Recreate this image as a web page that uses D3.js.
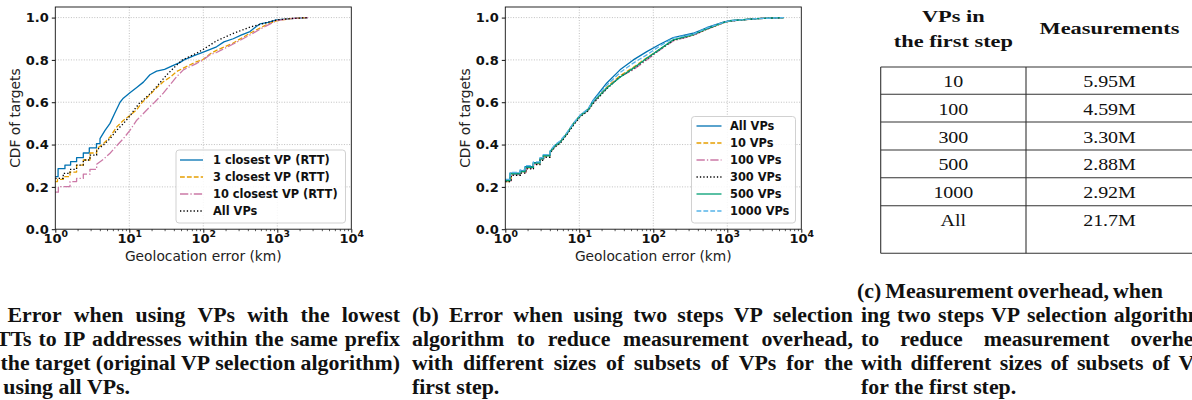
<!DOCTYPE html>
<html>
<head>
<meta charset="utf-8">
<script src="https://cdn.jsdelivr.net/npm/d3@7"></script>
<style>
  html, body { margin: 0; padding: 0; background: #fff; }
  svg { display: block; }
</style>
</head>
<body>
<script>
// ---------------- DATA ----------------
// Panel (a): [geolocation error km, CDF]
const closest1 = [[1,0.248],[1.09,0.286],[1.35,0.303],[1.61,0.319],[1.94,0.338],[2.39,0.36],[2.88,0.384],[3.6,0.404],[4.02,0.428],[4.7,0.467],[5.49,0.50],[6.4,0.55],[7.5,0.60],[8.3,0.619],[10.2,0.645],[12.6,0.67],[15.5,0.695],[19,0.73],[23.4,0.747],[30,0.755],[38,0.772],[48,0.787],[55,0.80],[75,0.82],[100,0.837],[151,0.862],[190,0.885],[254,0.90],[330,0.918],[427,0.934],[520,0.958],[582,0.97],[750,0.977],[977,0.989],[1500,0.995],[2600,1.0]];
const closest3 = [[1,0.225],[1.07,0.235],[1.28,0.248],[1.58,0.27],[1.94,0.303],[2.39,0.327],[2.94,0.36],[3.62,0.38],[4.46,0.404],[5.49,0.436],[6.75,0.483],[8.3,0.514],[10.2,0.537],[12.6,0.565],[15,0.60],[19,0.635],[23.4,0.668],[28.8,0.697],[35.5,0.718],[43.7,0.745],[53.7,0.761],[81.7,0.792],[97,0.80],[123,0.828],[151,0.845],[254,0.88],[427,0.926],[700,0.965],[977,0.985],[1500,0.995],[2600,1.0]];
const closest10 = [[1,0.175],[1.1,0.201],[1.58,0.225],[1.94,0.24],[2.39,0.26],[2.94,0.283],[3.62,0.307],[4.46,0.33],[5.49,0.359],[7,0.40],[8.3,0.428],[10.2,0.467],[12.6,0.515],[15.5,0.547],[19,0.579],[22,0.60],[28.8,0.643],[36,0.685],[43.7,0.721],[53.7,0.753],[81.7,0.784],[100,0.80],[123,0.824],[151,0.835],[254,0.875],[427,0.918],[700,0.96],[977,0.985],[1500,0.995],[2600,1.0]];
const allVPsA = [[1,0.24],[1.28,0.264],[1.58,0.283],[1.94,0.303],[2.39,0.327],[2.94,0.35],[3.62,0.374],[4.46,0.397],[5.49,0.428],[6.75,0.467],[8.3,0.499],[10.2,0.535],[12,0.57],[14,0.60],[15.5,0.611],[19,0.64],[23.4,0.674],[32,0.729],[43.7,0.776],[52,0.80],[81.7,0.832],[100,0.85],[123,0.87],[151,0.89],[254,0.925],[427,0.955],[700,0.975],[977,0.989],[1500,0.995],[2600,1.0]];

// Panel (b)
const allVPsB = [[1,0.233],[1.16,0.265],[1.58,0.276],[1.85,0.296],[2.39,0.315],[2.94,0.335],[3.26,0.35],[4.02,0.366],[4.7,0.397],[5.49,0.413],[6.75,0.452],[8.3,0.499],[10.2,0.537],[13.2,0.568],[15.5,0.611],[23.4,0.69],[35.5,0.753],[53.7,0.80],[81.7,0.839],[123,0.874],[186,0.905],[347,0.926],[525,0.952],[883,0.978],[1087,0.985],[2490,0.995],[5800,1.0]];
const vps10 = [[1,0.225],[1.2,0.26],[1.6,0.27],[1.9,0.29],[2.4,0.31],[2.94,0.33],[3.3,0.345],[4.02,0.362],[4.7,0.392],[5.49,0.41],[6.75,0.45],[8.3,0.497],[10.2,0.535],[13.2,0.565],[15.5,0.6],[23.4,0.67],[35.5,0.725],[53.7,0.765],[81.7,0.81],[123,0.85],[186,0.893],[347,0.918],[525,0.945],[883,0.975],[1087,0.984],[2490,0.995],[5800,1.0]];
const vps100 = [[1,0.228],[1.2,0.258],[1.6,0.268],[1.9,0.288],[2.4,0.308],[2.94,0.33],[3.3,0.345],[4.02,0.362],[4.7,0.39],[5.49,0.41],[6.75,0.448],[8.3,0.495],[10.2,0.533],[13.2,0.562],[15.5,0.598],[23.4,0.665],[35.5,0.72],[53.7,0.753],[81.7,0.80],[123,0.847],[186,0.89],[347,0.916],[525,0.944],[883,0.975],[1087,0.984],[2490,0.995],[5800,1.0]];
const vps300 = [[1,0.225],[1.2,0.255],[1.6,0.265],[1.9,0.285],[2.4,0.305],[2.94,0.325],[3.3,0.34],[4.02,0.36],[4.7,0.388],[5.49,0.405],[6.75,0.445],[8.3,0.49],[10.2,0.53],[13.2,0.56],[15.5,0.595],[23.4,0.663],[35.5,0.72],[53.7,0.758],[81.7,0.805],[123,0.85],[186,0.892],[347,0.918],[525,0.945],[883,0.976],[1087,0.984],[2490,0.995],[5800,1.0]];
const vps500 = [[1,0.23],[1.16,0.262],[1.58,0.272],[1.85,0.292],[2.39,0.312],[2.94,0.332],[3.26,0.347],[4.02,0.364],[4.7,0.394],[5.49,0.41],[6.75,0.45],[8.3,0.497],[10.2,0.535],[13.2,0.565],[15.5,0.603],[23.4,0.666],[35.5,0.718],[53.7,0.761],[81.7,0.808],[123,0.851],[186,0.895],[347,0.92],[525,0.947],[883,0.976],[1087,0.985],[2490,0.995],[5800,1.0]];
const vps1000 = [[1,0.235],[1.16,0.268],[1.58,0.28],[1.85,0.3],[2.39,0.318],[2.94,0.338],[3.26,0.352],[4.02,0.37],[4.7,0.4],[5.49,0.417],[6.75,0.455],[8.3,0.5],[10.2,0.538],[13.2,0.57],[15.5,0.608],[23.4,0.68],[35.5,0.74],[53.7,0.785],[81.7,0.824],[123,0.866],[186,0.903],[347,0.922],[525,0.95],[883,0.977],[1087,0.985],[2490,0.995],[5800,1.0]];

const legendA = ["1 closest VP (RTT)", "3 closest VP (RTT)", "10 closest VP (RTT)", "All VPs"];
const legendB = ["All VPs", "10 VPs", "100 VPs", "300 VPs", "500 VPs", "1000 VPs"];
const xTicks = [1, 10, 100, 1000, 10000];
const yTicks = [0, 0.2, 0.4, 0.6, 0.8, 1.0];
const xLabel = "Geolocation error (km)";
const yLabel = "CDF of targets";

// Table (c)
const tableHeader1 = ["VPs in", "the first step"];
const tableHeader2 = "Measurements";
const vpsFirstStep = ["10", "100", "300", "500", "1000", "All"];
const measurements = ["5.95M", "4.59M", "3.30M", "2.88M", "2.92M", "21.7M"];

// Captions
const captionA = ["Error when using VPs with the lowest", "RTTs to IP addresses within the same prefix", "the target (original VP selection algorithm)", "using all VPs."];
const captionB = ["(b) Error when using two steps VP selection", "algorithm to reduce measurement overhead,", "with different sizes of subsets of VPs for the", "first step."];
const captionC = ["(c) Measurement overhead, when", "ing two steps VP selection algorithm", "to reduce measurement overhead,", "with different sizes of subsets of VPs", "for the first step."];

// ---------------- STYLES ----------------
const styleA = [
  {color: "#0072B2", dash: null},
  {color: "#E69F00", dash: "4.8,2.1"},
  {color: "#CC79A7", dash: "8.3,2.1,1.3,2.1"},
  {color: "#000000", dash: "1.3,2.1"}
];
const styleB = [
  {color: "#0072B2", dash: null},
  {color: "#E69F00", dash: "4.8,2.1"},
  {color: "#CC79A7", dash: "8.3,2.1,1.3,2.1"},
  {color: "#000000", dash: "1.3,2.1"},
  {color: "#009E73", dash: null},
  {color: "#56B4E9", dash: "4.8,2.1"}
];

// ---------------- DRAW ----------------
const W = 1192, H = 400;
const svg = d3.select("body").append("svg").attr("width", W).attr("height", H);
svg.append("rect").attr("width", W).attr("height", H).attr("fill", "#fff");

const plotW = 296, plotTop = 7, plotH = 222.2;
const SANS = "DejaVu Sans, sans-serif";
const STEP_LIMIT = 4.1; // below this error (km) the ECDF staircase is visible

// insert staircase corners at the low end, straight segments above
function staircase(s) {
  const out = [];
  s.forEach((p, i) => {
    if (i > 0 && p[0] <= STEP_LIMIT) out.push([p[0], s[i - 1][1]]);
    out.push(p);
  });
  return out;
}

function drawPanel(left, seriesList, styles, names, leg) {
  const g = svg.append("g").attr("transform", `translate(${left},${plotTop})`);
  const x = d3.scaleLog().domain([1, 1e4]).range([0, plotW]);
  const y = d3.scaleLinear().domain([0, 1.05]).range([plotH, 0]);

  // grid
  g.append("g").selectAll("line").data(xTicks.slice(1, -1)).join("line")
    .attr("x1", d => x(d)).attr("x2", d => x(d)).attr("y1", 0).attr("y2", plotH)
    .attr("stroke", "#b0b0b0").attr("stroke-width", 0.8).attr("stroke-dasharray", "1,1.6");
  g.append("g").selectAll("line").data(yTicks.slice(1)).join("line")
    .attr("x1", 0).attr("x2", plotW).attr("y1", d => y(d)).attr("y2", d => y(d))
    .attr("stroke", "#b0b0b0").attr("stroke-width", 0.8).attr("stroke-dasharray", "1,1.6");

  // series
  const line = d3.line().x(d => x(d[0])).y(d => y(d[1]));
  seriesList.forEach((s, i) => {
    g.append("path").datum(staircase(s)).attr("d", line).attr("fill", "none")
      .attr("stroke", styles[i].color).attr("stroke-width", 1.3)
      .attr("stroke-linejoin", "round")
      .attr("stroke-dasharray", styles[i].dash);
  });

  // frame
  g.append("rect").attr("width", plotW).attr("height", plotH)
    .attr("fill", "none").attr("stroke", "#111").attr("stroke-width", 0.9);

  // y axis
  const ya = g.append("g").call(d3.axisLeft(y).tickValues(yTicks).tickSize(3.5).tickPadding(3).tickFormat(d3.format(".1f")));
  ya.select(".domain").remove();
  ya.selectAll("line").attr("stroke", "#111");
  ya.selectAll("text").attr("font-family", SANS).attr("font-size", 13).attr("font-weight", "bold").attr("fill", "#111");

  // x axis major
  const xa = g.append("g").attr("transform", `translate(0,${plotH})`)
    .call(d3.axisBottom(x).tickValues(xTicks).tickSize(3.5).tickFormat(() => ""));
  xa.select(".domain").remove();
  xa.selectAll("line").attr("stroke", "#111");
  xa.selectAll(".tick").each(function(d) {
    const t = d3.select(this).select("text");
    t.attr("y", null).attr("dy", null).attr("transform", "translate(0,13.8)")
      .attr("font-family", SANS).attr("font-size", 13).attr("font-weight", "bold").attr("fill", "#111");
    t.append("tspan").text("10");
    t.append("tspan").attr("dy", -6).attr("font-size", 9.3).text(String(Math.round(Math.log10(d))));
  });
  // minor ticks
  const minor = [];
  for (let e = 0; e < 4; e++) for (let m = 2; m <= 9; m++) minor.push(m * Math.pow(10, e));
  const xm = g.append("g").attr("transform", `translate(0,${plotH})`)
    .call(d3.axisBottom(x).tickValues(minor).tickSize(2).tickFormat(() => ""));
  xm.select(".domain").remove();
  xm.selectAll("line").attr("stroke", "#111").attr("stroke-width", 0.7);

  // axis labels
  g.append("text").attr("x", plotW / 2).attr("y", plotH + 32)
    .attr("text-anchor", "middle").attr("font-family", SANS).attr("font-size", 13.8).attr("fill", "#222").text(xLabel);
  g.append("text").attr("transform", `translate(${-40},${plotH / 2}) rotate(-90)`)
    .attr("text-anchor", "middle").attr("dy", "0.35em").attr("font-family", SANS).attr("font-size", 13.8).attr("fill", "#222").text(yLabel);

  // legend
  const lg = g.append("g");
  lg.append("rect").attr("x", leg.x0 - left).attr("y", leg.y0 - plotTop)
    .attr("width", leg.x1 - leg.x0).attr("height", leg.y1 - leg.y0).attr("rx", 3)
    .attr("fill", "#fff").attr("fill-opacity", 0.85).attr("stroke", "#cccccc").attr("stroke-width", 0.9);
  names.forEach((n, i) => {
    const cy = leg.rows[i] - plotTop;
    lg.append("line").attr("x1", leg.sx0 - left).attr("x2", leg.sx1 - left).attr("y1", cy).attr("y2", cy)
      .attr("stroke", styles[i].color).attr("stroke-width", 1.3).attr("stroke-dasharray", styles[i].dash);
    lg.append("text").attr("x", leg.tx - left).attr("y", cy + 4.2)
      .attr("font-family", SANS).attr("font-size", 11.4).attr("font-weight", "bold").attr("fill", "#111").text(n);
  });
}

drawPanel(55.3, [closest1, closest3, closest10, allVPsA], styleA, legendA,
  {x0: 176, y0: 150, x1: 345.5, y1: 223, rows: [160, 177, 194, 211], sx0: 180, sx1: 203, tx: 213});
drawPanel(505.3, [allVPsB, vps10, vps100, vps300, vps500, vps1000], styleB, legendB,
  {x0: 691.5, y0: 116.5, x1: 795.5, y1: 223, rows: [126, 143, 160, 177, 194, 211], sx0: 696.5, sx1: 721.5, tx: 730});

// ---------------- TABLE ----------------
const SERIF = "Liberation Serif, Times New Roman, serif";
const measureG = svg.append("g").attr("visibility", "hidden");
function measure(txt, size, weight) {
  const t = measureG.append("text").attr("font-family", SERIF).attr("font-size", size).attr("font-weight", weight).text(txt);
  const w = t.node().getComputedTextLength();
  t.remove();
  return w;
}
const tb = svg.append("g");
const colX = [880.7, 1026, 1193];
const rowY = [67, 94.3, 122, 150, 177.7, 205.7, 253.3];
const stBody = 52.7 / measure("5.95M", 17, "normal");
const stHead = 140 / measure("Measurements", 16.5, "bold");
function centered(txt, cx, y, size, weight, s) {
  tb.append("text").attr("transform", `translate(${cx},${y}) scale(${s},1)`)
    .attr("text-anchor", "middle").attr("font-family", SERIF).attr("font-size", size)
    .attr("font-weight", weight).attr("fill", "#111").text(txt);
}
const c1 = (colX[0] + colX[1]) / 2, c2 = (colX[1] + colX[2]) / 2;
centered(tableHeader1[0], c1, 22, 16.5, "bold", stHead);
centered(tableHeader1[1], c1, 46.5, 16.5, "bold", stHead);
centered(tableHeader2, c2, 34.3, 16.5, "bold", stHead);
const textY = [87.3, 115, 142.7, 170.3, 198, 226];
vpsFirstStep.forEach((v, i) => {
  centered(v, c1, textY[i], 17, "normal", stBody);
  centered(measurements[i], c2, textY[i], 17, "normal", stBody);
});
tb.selectAll("line.h").data(rowY).join("line").attr("class", "h")
  .attr("x1", colX[0]).attr("x2", colX[2]).attr("y1", d => d).attr("y2", d => d)
  .attr("stroke", "#333").attr("stroke-width", 1.1);
tb.selectAll("line.v").data(colX).join("line").attr("class", "v")
  .attr("x1", d => d).attr("x2", d => d).attr("y1", rowY[0]).attr("y2", rowY[rowY.length - 1])
  .attr("stroke", "#333").attr("stroke-width", 1.1);

// ---------------- CAPTIONS ----------------
const capSize = 20;
// horizontal stretch so the tightest line (a, line 3) just fits its measure
const capS = 399 / measure(captionA[2], capSize, "bold");
const spaceW = measure("a a", capSize, "bold") - 2 * measure("a", capSize, "bold");
function captionLine(txt, x0, y, x1) {
  const words = txt.split(" ");
  const widths = words.map(w => measure(w, capSize, "bold"));
  const sum = d3.sum(widths);
  let gap = (x1 != null && words.length > 1) ? ((x1 - x0) / capS - sum) / (words.length - 1) : spaceW;
  gap = Math.max(gap, spaceW * 0.75);
  const t = svg.append("text").attr("transform", `translate(${x0},${y}) scale(${capS},1)`)
    .attr("font-family", SERIF).attr("font-size", capSize).attr("font-weight", "bold").attr("fill", "#111");
  let cx = 0;
  words.forEach((w, i) => {
    t.append("tspan").attr("x", cx).text(w + (i < words.length - 1 ? " " : ""));
    cx += widths[i] + gap;
  });
}
const capBase = [322, 346, 370, 394];
captionLine(captionA[0], 7.5, capBase[0], 400);
captionLine(captionA[1], -19, capBase[1], 400);
captionLine(captionA[2], 0.5, capBase[2], 400);
captionLine(captionA[3], 3.3, capBase[3], null);
captionLine(captionB[0], 412, capBase[0], 853);
captionLine(captionB[1], 412, capBase[1], 853);
captionLine(captionB[2], 412, capBase[2], 853);
captionLine(captionB[3], 412, capBase[3], null);
captionLine(captionC[0], 857, 298, 1153);
captionLine(captionC[1], 861, capBase[0], 1206);
captionLine(captionC[2], 861, capBase[1], 1222);
captionLine(captionC[3], 861, capBase[2], 1216);
captionLine(captionC[4], 861, capBase[3], null);
</script>
</body>
</html>
